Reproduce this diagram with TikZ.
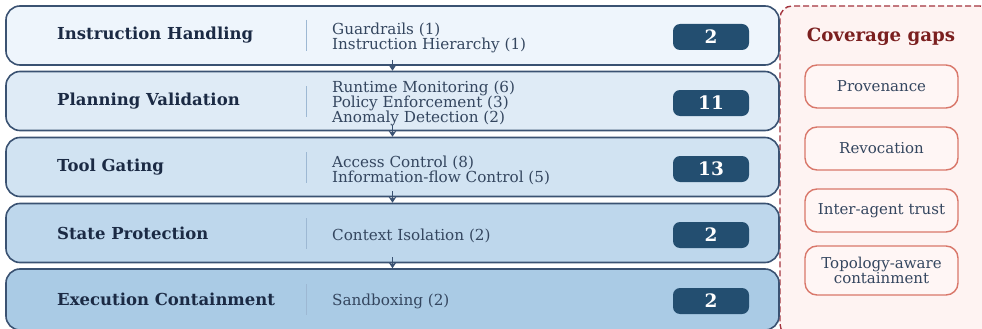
\documentclass[tikz,border=0pt]{standalone}
\usepackage{fontspec}
\setmainfont{DejaVu Serif}
\usetikzlibrary{arrows.meta}
\definecolor{rowA}{HTML}{EEF5FC}
\definecolor{rowB}{HTML}{DFEBF6}
\definecolor{rowC}{HTML}{D1E3F2}
\definecolor{rowD}{HTML}{BED7EC}
\definecolor{rowE}{HTML}{AACBE5}
\definecolor{rowline}{HTML}{3A5272}
\definecolor{titlecol}{HTML}{1B2A44}
\definecolor{itemcol}{HTML}{34465F}
\definecolor{sepcol}{HTML}{9DB8D3}
\definecolor{badgecol}{HTML}{234E70}
\definecolor{panelfill}{HTML}{FEF3F2}
\definecolor{paneldraw}{HTML}{A3333D}
\definecolor{gaptitle}{HTML}{7B1F1F}
\definecolor{gapdraw}{HTML}{D9776A}
\definecolor{gapfill}{HTML}{FFF6F5}
\tikzset{
  rowbox/.style={draw=rowline, line width=1.6pt, rounded corners=14pt, minimum width=773pt, minimum height=59pt, inner sep=0pt},
  titletext/.style={anchor=west, font=\fontsize{16.5}{18}\selectfont\bfseries, text=titlecol, inner sep=0pt},
  itemtext/.style={anchor=west, font=\fontsize{15.2}{15}\selectfont, text=itemcol, align=left, inner sep=0pt},
  badge/.style={fill=badgecol, rounded corners=7pt, minimum width=76pt, minimum height=26pt, inner sep=0pt, text=white, font=\fontsize{18.5}{20}\selectfont\bfseries},
  sepline/.style={draw=sepcol, line width=1pt},
  flowarrow/.style={draw=rowline, line width=1.6pt, -{Stealth[length=6pt,width=8pt]}},
  panel/.style={draw=paneldraw, fill=panelfill, dash pattern=on 6pt off 3pt, line width=1.4pt, rounded corners=12pt, inner sep=0pt},
  gapbox/.style={draw=gapdraw, fill=gapfill, line width=1.4pt, rounded corners=12pt, minimum width=153pt, inner sep=0pt, text=itemcol, align=center, font=\fontsize{15}{13}\selectfont},
}
\begin{document}
\begin{tikzpicture}[x=1pt,y=-1pt]
\useasboundingbox (0,0) rectangle (982,329);
% right panel
\node[panel, minimum width=212pt, minimum height=330pt] (panel) at (886,171) {};
\node[font=\fontsize{18.2}{20}\selectfont\bfseries, text=gaptitle, inner sep=0pt] (gtitle) at (881,37) {Coverage gaps};
\node[gapbox, minimum height=43pt] (g1) at (881.5,86.5) {Provenance};
\node[gapbox, minimum height=43pt] (g2) at (881.5,148.5) {Revocation};
\node[gapbox, minimum height=43pt] (g3) at (881.5,210.5) {Inter-agent trust};
\node[gapbox, minimum height=49pt] (g4) at (881.5,270.5) {Topology-aware\\containment};
% rows
\node[rowbox, fill=rowA] (r1) at (392.5,35.5) {};
\node[rowbox, fill=rowB] (r2) at (392.5,101) {};
\node[rowbox, fill=rowC] (r3) at (392.5,167) {};
\node[rowbox, fill=rowD] (r4) at (392.5,233) {};
\node[rowbox, fill=rowE, minimum height=61pt] (r5) at (392.5,299.5) {};
% arrows
\draw[flowarrow] ([yshift=6pt]r1.south) -- (r2.north);
\draw[flowarrow] ([yshift=6pt]r2.south) -- (r3.north);
\draw[flowarrow] ([yshift=6pt]r3.south) -- (r4.north);
\draw[flowarrow] ([yshift=6pt]r4.south) -- (r5.north);
% titles
\node[titletext] (t1) at (57,35) {Instruction Handling};
\node[titletext] (t2) at (57,101) {Planning Validation};
\node[titletext] (t3) at (57,167) {Tool Gating};
\node[titletext] (t4) at (57,233) {State Protection};
\node[titletext] (t5) at (57,299) {Execution Containment};
% separators
\draw[sepline] (306,20) -- (306,51);
\draw[sepline] (306,86) -- (306,117);
\draw[sepline] (306,152) -- (306,183);
\draw[sepline] (306,218) -- (306,249);
\draw[sepline] (306,284) -- (306,315);
% items
\node[itemtext] (i1) at (332,38) {Guardrails (1)\\Instruction Hierarchy (1)};
\node[itemtext] (i2) at (332,103.5) {Runtime Monitoring (6)\\Policy Enforcement (3)\\Anomaly Detection (2)};
\node[itemtext] (i3) at (332,170) {Access Control (8)\\Information-flow Control (5)};
\node[itemtext] (i4) at (332,235.5) {Context Isolation (2)};
\node[itemtext] (i5) at (332,301.5) {Sandboxing (2)};
% badges
\node[badge] (b1) at (711,37) {2};
\node[badge] (b2) at (711,103) {11};
\node[badge] (b3) at (711,169) {13};
\node[badge] (b4) at (711,235) {2};
\node[badge] (b5) at (711,301) {2};
\end{tikzpicture}
\end{document}
